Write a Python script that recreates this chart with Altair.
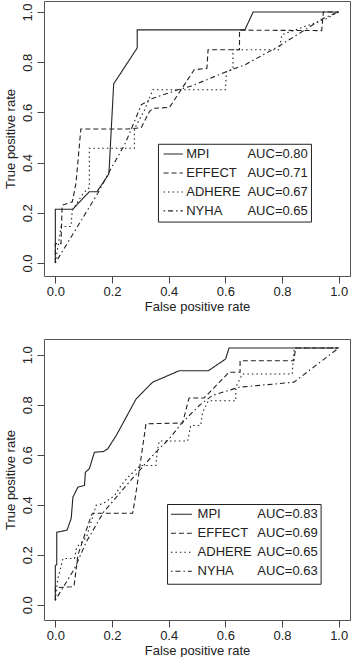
import altair as alt
import pandas as pd

NAMES = ["MPI", "EFFECT", "ADHERE", "NYHA"]
TOP_AUC = ["AUC=0.80", "AUC=0.71", "AUC=0.67", "AUC=0.65"]
BOT_AUC = ["AUC=0.83", "AUC=0.69", "AUC=0.65", "AUC=0.63"]
TICKS = [0.0, 0.2, 0.4, 0.6, 0.8, 1.0]

# ---- top panel curves ----
top_mpi_fpr = [0, 0, 0.061, 0.12, 0.147, 0.189, 0.206, 0.289, 0.289, 0.669, 0.698, 1.0]
top_mpi_tpr = [0, 0.214, 0.214, 0.284, 0.284, 0.355, 0.714, 0.857, 0.929, 0.929, 1.0, 1.0]
top_eff_fpr = [0, 0, 0.02, 0.024, 0.06, 0.073, 0.09, 0.256, 0.303, 0.332, 0.344, 0.403, 0.49, 0.535, 0.539, 0.65, 0.65, 0.94, 0.946, 1.0]
top_eff_tpr = [0, 0.077, 0.077, 0.23, 0.244, 0.318, 0.534, 0.534, 0.539, 0.603, 0.616, 0.62, 0.77, 0.776, 0.85, 0.85, 0.928, 0.926, 1.0, 1.0]
top_adh_fpr = [0, 0.01, 0.02, 0.055, 0.06, 0.1, 0.12, 0.12, 0.279, 0.279, 0.315, 0.344, 0.60, 0.604, 0.627, 0.627, 0.79, 0.80, 0.95, 1.0]
top_adh_tpr = [0, 0.07, 0.145, 0.145, 0.21, 0.28, 0.30, 0.457, 0.457, 0.534, 0.61, 0.69, 0.69, 0.762, 0.772, 0.85, 0.85, 0.91, 0.97, 1.0]
top_nyha_fpr = [0, 0.15, 0.197, 0.244, 0.267, 0.303, 0.344, 0.433, 0.48, 0.603, 0.668, 0.786, 0.946, 0.987, 1.0]
top_nyha_tpr = [0, 0.278, 0.377, 0.47, 0.53, 0.63, 0.656, 0.69, 0.705, 0.762, 0.789, 0.862, 0.975, 0.995, 1.0]

# ---- bottom panel curves ----
bot_mpi_fpr = [0, 0, 0.005, 0.005, 0.041, 0.056, 0.062, 0.08, 0.103, 0.106, 0.12, 0.138, 0.17, 0.185, 0.215, 0.285, 0.343, 0.437, 0.54, 0.601, 0.613, 1.0]
bot_mpi_tpr = [0.018, 0.158, 0.16, 0.29, 0.298, 0.345, 0.43, 0.471, 0.477, 0.53, 0.544, 0.61, 0.613, 0.624, 0.677, 0.823, 0.89, 0.936, 0.936, 0.983, 1.027, 1.027]
bot_eff_fpr = [0, 0, 0.056, 0.066, 0.08, 0.127, 0.132, 0.273, 0.285, 0.32, 0.449, 0.472, 0.525, 0.613, 0.652, 0.652, 0.842, 0.848, 1.0]
bot_eff_tpr = [0.018, 0.068, 0.072, 0.075, 0.2, 0.358, 0.366, 0.366, 0.45, 0.724, 0.727, 0.827, 0.827, 0.93, 0.93, 0.976, 0.976, 1.027, 1.027]
bot_adh_fpr = [0, 0.008, 0.027, 0.068, 0.075, 0.11, 0.144, 0.168, 0.209, 0.232, 0.256, 0.30, 0.355, 0.36, 0.367, 0.467, 0.478, 0.513, 0.52, 0.54, 0.637, 0.637, 0.66, 0.836, 0.843, 1.0]
bot_adh_tpr = [0.018, 0.1, 0.185, 0.185, 0.23, 0.27, 0.398, 0.404, 0.437, 0.477, 0.51, 0.557, 0.557, 0.617, 0.655, 0.655, 0.717, 0.717, 0.77, 0.816, 0.816, 0.87, 0.923, 0.923, 1.027, 1.027]
bot_nyha_fpr = [0, 0.068, 0.109, 0.17, 0.261, 0.349, 0.402, 0.449, 0.508, 0.554, 0.648, 0.842, 1.0]
bot_nyha_tpr = [0.018, 0.145, 0.251, 0.37, 0.491, 0.604, 0.664, 0.73, 0.797, 0.837, 0.87, 0.89, 1.027]

DASHES = [[1, 0], [5, 3], [1.5, 3], [1.5, 3, 5, 3]]
LINE_COLOR = "#222222"
FONT = "Liberation Sans"


def curves_df(curves):
    rows = []
    for name, (fx, ty) in zip(NAMES, curves):
        for i, (a, b) in enumerate(zip(fx, ty)):
            rows.append({"series": name, "fpr": a, "tpr": b, "order": i})
    return pd.DataFrame(rows)


def panel(curves, aucs, ydom, width, height, leg):
    df = curves_df(curves)
    x = alt.X("fpr:Q", scale=alt.Scale(domain=[-0.04, 1.04], nice=False, zero=False),
              axis=alt.Axis(values=TICKS, format=".1f", title="False positive rate"))
    y = alt.Y("tpr:Q", scale=alt.Scale(domain=ydom, nice=False, zero=False),
              axis=alt.Axis(values=TICKS, format=".1f", title="True positive rate",
                            labelAngle=270, labelAlign="center", labelBaseline="bottom",
                            labelPadding=3, titlePadding=4))
    dash = alt.StrokeDash("series:N", scale=alt.Scale(domain=NAMES, range=DASHES), legend=None)
    lines = alt.Chart(df).mark_line(color=LINE_COLOR, strokeWidth=1.1, clip=True).encode(
        x=x, y=y, strokeDash=dash, detail="series:N", order="order:Q")

    box_df = pd.DataFrame({"fpr": [leg["bx1"]], "fpr2": [leg["bx2"]],
                           "tpr": [leg["by1"]], "tpr2": [leg["by2"]]})
    box = alt.Chart(box_df).mark_rect(fill="white", stroke=LINE_COLOR, strokeWidth=1).encode(
        x="fpr:Q", x2="fpr2", y="tpr:Q", y2="tpr2")

    ldf = pd.DataFrame({"series": NAMES, "auc": aucs, "row": list(range(4))})
    ldf["tpr"] = leg["t0"] - ldf["row"] * leg["step"]
    ldf["fpr"] = leg["s1"]
    ldf["fpr2"] = leg["s2"]
    samples = alt.Chart(ldf).mark_rule(color=LINE_COLOR, strokeWidth=1.1).encode(
        x="fpr:Q", x2="fpr2", y="tpr:Q", strokeDash=dash)
    ndf = ldf.copy()
    ndf["fpr"] = leg["n"]
    names = alt.Chart(ndf).mark_text(align="left", baseline="middle", font=FONT, fontSize=13,
                                     color="#222").encode(x="fpr:Q", y="tpr:Q", text="series:N")
    adf = ldf.copy()
    adf["fpr"] = leg["a"]
    auc = alt.Chart(adf).mark_text(align="left", baseline="middle", font=FONT, fontSize=13,
                                   color="#222").encode(x="fpr:Q", y="tpr:Q", text="auc:N")
    return alt.layer(lines, box, samples, names, auc).properties(width=width, height=height)


top = panel(
    [(top_mpi_fpr, top_mpi_tpr), (top_eff_fpr, top_eff_tpr), (top_adh_fpr, top_adh_tpr), (top_nyha_fpr, top_nyha_tpr)],
    TOP_AUC, [-0.052, 1.044], 306, 275,
    dict(bx1=0.364, bx2=0.904, by1=0.473, by2=0.163, t0=0.434, step=0.0755, s1=0.382, s2=0.450, n=0.462, a=0.678))
bottom = panel(
    [(bot_mpi_fpr, bot_mpi_tpr), (bot_eff_fpr, bot_eff_tpr), (bot_adh_fpr, bot_adh_tpr), (bot_nyha_fpr, bot_nyha_tpr)],
    BOT_AUC, [-0.061, 1.063], 306, 281,
    dict(bx1=0.396, bx2=0.938, by1=0.401, by2=0.082, t0=0.362, step=0.076, s1=0.408, s2=0.482, n=0.502, a=0.713))

chart = alt.vconcat(top, bottom, spacing=63, bounds="flush").properties(
    padding={"left": 3, "top": 0, "right": 0, "bottom": 0}
).configure_view(stroke="#555", strokeWidth=1).configure_axis(
    domain=False, grid=False, tickSize=7, tickColor="#444", tickWidth=1,
    labelFont=FONT, labelFontSize=13, labelColor="#222", labelPadding=2,
    titleFont=FONT, titleFontSize=13, titleFontWeight="normal", titleColor="#222", titlePadding=2
).configure_concat(spacing=63)

chart.save("out.html", embed_options={"renderer": "svg", "actions": False})
